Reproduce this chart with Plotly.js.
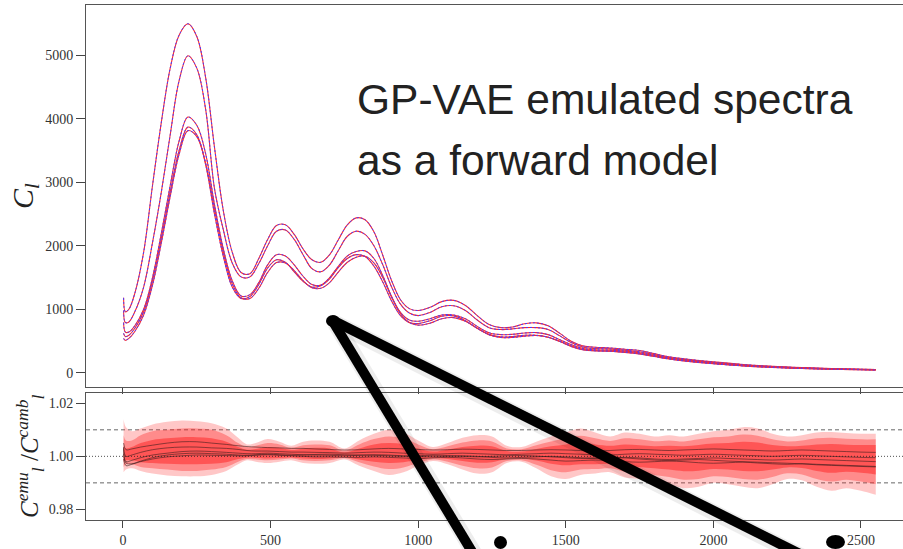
<!DOCTYPE html>
<html>
<head>
<meta charset="utf-8">
<script src="https://cdn.plot.ly/plotly-3.0.1.min.js"></script>
<style>html,body{margin:0;padding:0;background:#fff;}#chart{width:903px;height:549px;}</style>
</head>
<body>
<div id="chart"></div>
<script>
// multipole grid for spectra
var ell = [2, 8, 20, 40, 70, 100, 130, 160, 190, 220, 250, 280, 310, 340, 370, 400, 430, 460, 490, 520, 550, 580, 610, 640, 670, 700, 730, 760, 790, 820, 850, 880, 910, 940, 970, 1000, 1040, 1080, 1120, 1160, 1200, 1240, 1280, 1320, 1360, 1400, 1440, 1480, 1520, 1560, 1600, 1650, 1700, 1750, 1800, 1850, 1900, 2000, 2100, 2200, 2300, 2400, 2500, 2550];

var cl1 = [1180, 960, 1000, 1250, 1900, 2950, 3950, 4800, 5320, 5500, 5300, 4650, 3550, 2550, 1900, 1580, 1560, 1800, 2100, 2320, 2330, 2180, 1950, 1780, 1740, 1860, 2100, 2330, 2440, 2410, 2220, 1850, 1450, 1150, 1010, 980, 1030, 1120, 1140, 1060, 900, 760, 710, 720, 770, 785, 740, 620, 490, 420, 400, 390, 370, 350, 300, 250, 220, 170, 130, 100, 80, 65, 55, 50];
var cl2 = [980, 790, 800, 960, 1350, 2050, 2850, 3750, 4600, 4995, 4800, 4150, 2900, 2250, 1730, 1510, 1510, 1720, 2000, 2230, 2250, 2100, 1860, 1640, 1590, 1700, 1930, 2150, 2230, 2180, 2000, 1700, 1350, 1080, 940, 900, 950, 1040, 1055, 980, 830, 710, 680, 690, 710, 710, 680, 580, 470, 400, 380, 375, 355, 330, 285, 240, 210, 160, 125, 95, 78, 63, 53, 48];
var cl3 = [790, 640, 640, 740, 1000, 1500, 2200, 2950, 3650, 4030, 3900, 3450, 2650, 1950, 1450, 1210, 1230, 1420, 1700, 1860, 1840, 1700, 1520, 1390, 1380, 1500, 1680, 1840, 1910, 1920, 1800, 1530, 1200, 950, 830, 810, 850, 910, 910, 850, 730, 630, 600, 605, 625, 632, 600, 520, 440, 380, 360, 355, 340, 315, 270, 230, 200, 150, 115, 90, 72, 58, 50, 46];
var cl4 = [620, 570, 590, 700, 960, 1450, 2120, 2850, 3500, 3870, 3750, 3280, 2500, 1830, 1350, 1170, 1200, 1390, 1650, 1780, 1740, 1590, 1440, 1350, 1370, 1480, 1660, 1800, 1860, 1830, 1680, 1430, 1130, 900, 790, 775, 820, 890, 895, 820, 700, 600, 565, 570, 590, 590, 560, 490, 410, 360, 345, 340, 325, 300, 260, 220, 190, 145, 110, 85, 68, 56, 48, 44];
var cl5 = [540, 510, 540, 650, 910, 1380, 2050, 2780, 3440, 3815, 3720, 3300, 2580, 1900, 1400, 1180, 1170, 1330, 1580, 1735, 1730, 1610, 1450, 1340, 1330, 1420, 1590, 1740, 1820, 1835, 1730, 1500, 1190, 930, 790, 750, 780, 850, 868, 810, 700, 600, 555, 555, 575, 585, 560, 495, 420, 365, 345, 338, 320, 295, 255, 215, 185, 140, 107, 82, 66, 54, 46, 42];

// multipole grid for ratio panel
var rell = [2, 10, 30, 60, 100, 150, 200, 250, 300, 350, 390, 420, 450, 490, 530, 570, 610, 650, 700, 750, 800, 850, 900, 950, 1000, 1050, 1100, 1150, 1200, 1250, 1300, 1350, 1400, 1450, 1500, 1550, 1600, 1650, 1700, 1750, 1800, 1850, 1900, 1950, 2000, 2050, 2100, 2150, 2200, 2250, 2300, 2350, 2400, 2450, 2500, 2550];

var outerUp = [1.014, 1.011, 1.0095, 1.0105, 1.012, 1.013, 1.0135, 1.0132, 1.0125, 1.0105, 1.007, 1.0045, 1.005, 1.0065, 1.0055, 1.004, 1.0055, 1.006, 1.0055, 1.003, 1.006, 1.0085, 1.01, 1.009, 1.006, 1.0035, 1.005, 1.007, 1.008, 1.0075, 1.004, 1.0035, 1.0055, 1.0075, 1.009, 1.0105, 1.009, 1.0075, 1.009, 1.0085, 1.0075, 1.008, 1.0075, 1.0085, 1.0095, 1.01, 1.011, 1.0105, 1.0085, 1.0075, 1.008, 1.009, 1.0092, 1.0088, 1.0085, 1.0085];
var outerLo = [0.994, 0.995, 0.9955, 0.9945, 0.9935, 0.9928, 0.9925, 0.9925, 0.993, 0.9945, 0.997, 0.9985, 0.998, 0.9975, 0.998, 0.9985, 0.9975, 0.9972, 0.9975, 0.9988, 0.9965, 0.9945, 0.993, 0.994, 0.9965, 0.9982, 0.997, 0.995, 0.9935, 0.994, 0.9975, 0.998, 0.9955, 0.9925, 0.9915, 0.993, 0.9935, 0.994, 0.992, 0.9915, 0.9905, 0.9895, 0.988, 0.9885, 0.99, 0.9895, 0.9885, 0.988, 0.9895, 0.9915, 0.991, 0.9885, 0.987, 0.988, 0.987, 0.9855];
var midUp = [1.008, 1.006, 1.006, 1.008, 1.0095, 1.01, 1.0105, 1.0105, 1.01, 1.008, 1.005, 1.0035, 1.004, 1.005, 1.0045, 1.0032, 1.0042, 1.0045, 1.0042, 1.0022, 1.0045, 1.0065, 1.0075, 1.0068, 1.0045, 1.0027, 1.0038, 1.0052, 1.006, 1.0056, 1.003, 1.0027, 1.0042, 1.0056, 1.0068, 1.0078, 1.0068, 1.0058, 1.0068, 1.0064, 1.0057, 1.006, 1.0056, 1.0064, 1.0072, 1.0075, 1.0082, 1.0078, 1.0064, 1.0056, 1.006, 1.0068, 1.007, 1.0066, 1.0064, 1.0064];
var midLo = [0.996, 0.997, 0.997, 0.996, 0.9955, 0.995, 0.9945, 0.9945, 0.995, 0.996, 0.998, 0.999, 0.9988, 0.9985, 0.9988, 0.9992, 0.9985, 0.9982, 0.9985, 0.9993, 0.9978, 0.9962, 0.9952, 0.9958, 0.9975, 0.9988, 0.998, 0.9965, 0.9955, 0.9958, 0.9982, 0.9985, 0.9968, 0.9948, 0.994, 0.995, 0.9952, 0.9955, 0.9942, 0.9938, 0.993, 0.9922, 0.9912, 0.9915, 0.9925, 0.9922, 0.9915, 0.9912, 0.9922, 0.9936, 0.9932, 0.9915, 0.9905, 0.9912, 0.9905, 0.9895];
var innerUp = [1.004, 1.003, 1.0035, 1.005, 1.0062, 1.0068, 1.0072, 1.0072, 1.0068, 1.0055, 1.0035, 1.0025, 1.0028, 1.0035, 1.0032, 1.0024, 1.003, 1.0032, 1.003, 1.0015, 1.003, 1.0045, 1.005, 1.0046, 1.003, 1.0018, 1.0026, 1.0035, 1.004, 1.0038, 1.002, 1.0018, 1.0028, 1.0038, 1.0045, 1.0052, 1.0045, 1.004, 1.0045, 1.0042, 1.0038, 1.004, 1.0038, 1.0043, 1.0048, 1.005, 1.0055, 1.0052, 1.0043, 1.0038, 1.004, 1.0045, 1.0047, 1.0044, 1.0043, 1.0043];
var innerLo = [0.998, 0.9985, 0.9985, 0.9978, 0.9975, 0.9972, 0.997, 0.997, 0.9972, 0.9978, 0.999, 0.9995, 0.9994, 0.9992, 0.9994, 0.9996, 0.9992, 0.999, 0.9992, 0.9997, 0.9988, 0.998, 0.9975, 0.9978, 0.9987, 0.9994, 0.999, 0.9982, 0.9976, 0.9978, 0.999, 0.9992, 0.9984, 0.9972, 0.9966, 0.997, 0.997, 0.9972, 0.9964, 0.996, 0.9955, 0.995, 0.9944, 0.9946, 0.9952, 0.995, 0.9945, 0.9944, 0.995, 0.9958, 0.9956, 0.9945, 0.9938, 0.9942, 0.9938, 0.9932];

var ratio1 = [1.005, 1.0025, 1.0028, 1.0035, 1.0042, 1.005, 1.0055, 1.0055, 1.005, 1.0045, 1.004, 1.0037, 1.0035, 1.0033, 1.0032, 1.003, 1.003, 1.0028, 1.0026, 1.0024, 1.0025, 1.0028, 1.003, 1.0028, 1.0026, 1.0024, 1.0025, 1.0027, 1.0026, 1.0024, 1.0022, 1.0022, 1.0024, 1.0025, 1.0024, 1.0022, 1.002, 1.0022, 1.0025, 1.0026, 1.0024, 1.0022, 1.0024, 1.0026, 1.0028, 1.0026, 1.0024, 1.0022, 1.002, 1.0022, 1.0024, 1.0022, 1.002, 1.0018, 1.0016, 1.0015];
var ratio2 = [1.003, 1.0, 1.0005, 1.0015, 1.0025, 1.0032, 1.0035, 1.0035, 1.0032, 1.003, 1.0026, 1.0022, 1.002, 1.002, 1.0018, 1.0016, 1.0016, 1.0015, 1.0014, 1.0012, 1.0014, 1.0016, 1.0015, 1.0012, 1.001, 1.0008, 1.001, 1.0012, 1.001, 1.0008, 1.0006, 1.0008, 1.001, 1.0012, 1.001, 1.0008, 1.0006, 1.0005, 1.0008, 1.001, 1.0008, 1.0006, 1.0004, 1.0006, 1.0008, 1.0006, 1.0004, 1.0002, 1.0, 1.0002, 1.0004, 1.0002, 1.0, 0.9998, 0.9996, 0.9995];
var ratio3 = [1.001, 0.998, 0.9985, 0.9995, 1.0005, 1.0012, 1.0018, 1.002, 1.0018, 1.0015, 1.0012, 1.001, 1.001, 1.0012, 1.001, 1.0008, 1.0006, 1.0005, 1.0004, 1.0002, 1.0004, 1.0006, 1.0005, 1.0002, 1.0, 0.9998, 1.0, 1.0002, 1.0, 0.9996, 0.9994, 0.9996, 0.9998, 1.0, 0.9998, 0.9995, 0.9992, 0.9994, 0.9996, 0.9994, 0.999, 0.9988, 0.999, 0.9992, 0.9994, 0.9992, 0.999, 0.9988, 0.9986, 0.9988, 0.999, 0.9988, 0.9986, 0.9984, 0.9982, 0.998];
var ratio4 = [0.999, 0.9965, 0.997, 0.998, 0.999, 0.9998, 1.0002, 1.0005, 1.0004, 1.0003, 1.0002, 1.0002, 1.0004, 1.0006, 1.0004, 1.0002, 1.0, 0.9998, 0.9998, 0.9996, 0.9996, 0.9998, 0.9996, 0.9994, 0.9992, 0.9994, 0.9996, 0.9994, 0.999, 0.9988, 0.999, 0.9992, 0.999, 0.9986, 0.9982, 0.9984, 0.9986, 0.9984, 0.998, 0.9978, 0.998, 0.9982, 0.998, 0.9976, 0.9974, 0.9976, 0.9978, 0.9975, 0.9972, 0.997, 0.9972, 0.997, 0.9968, 0.9966, 0.9964, 0.9962];
var ratio5 = [1.0035, 0.9975, 0.9972, 0.9982, 0.9995, 1.0005, 1.001, 1.0012, 1.001, 1.0008, 1.0005, 1.0004, 1.0006, 1.0008, 1.0006, 1.0004, 1.0005, 1.0007, 1.0008, 1.0006, 1.0005, 1.0004, 1.0002, 1.0, 1.0002, 1.0004, 1.0003, 1.0, 0.9998, 1.0, 1.0002, 1.0003, 1.0001, 0.9998, 0.9995, 0.9992, 0.9994, 0.9996, 0.9994, 0.999, 0.9986, 0.9984, 0.9986, 0.9988, 0.9985, 0.9982, 0.998, 0.9978, 0.9976, 0.9974, 0.9972, 0.9968, 0.9966, 0.9964, 0.9962, 0.996];

var topTicks = [0, 1000, 2000, 3000, 4000, 5000];
var xTicks = [0, 500, 1000, 1500, 2000, 2500];
var ratioTicks = [0.98, 1.00, 1.02];
var ratioTickText = ['0.98', '1.00', '1.02'];
var headline1 = 'GP-VAE emulated spectra';
var headline2 = 'as a forward model';

var traces = [];
[cl1, cl2, cl3, cl4, cl5].forEach(function (c) {
  traces.push({x: ell, y: c, xaxis: 'x', yaxis: 'y', mode: 'lines', type: 'scatter',
    line: {color: '#ff2a2a', width: 1.1, shape: 'spline', smoothing: 1}, hoverinfo: 'skip', showlegend: false});
  traces.push({x: ell, y: c, xaxis: 'x', yaxis: 'y', mode: 'lines', type: 'scatter',
    line: {color: '#4a3cff', width: 1.0, dash: '2px,2px', shape: 'spline', smoothing: 1}, hoverinfo: 'skip', showlegend: false});
});

function band(up, lo, col) {
  traces.push({x: rell, y: lo, xaxis: 'x2', yaxis: 'y2', mode: 'lines', type: 'scatter',
    line: {width: 0, shape: 'spline'}, hoverinfo: 'skip', showlegend: false});
  traces.push({x: rell, y: up, xaxis: 'x2', yaxis: 'y2', mode: 'lines', type: 'scatter', fill: 'tonexty',
    fillcolor: col, line: {width: 0, shape: 'spline'}, hoverinfo: 'skip', showlegend: false});
}
band(outerUp, outerLo, 'rgba(255,30,30,0.25)');
band(midUp, midLo, 'rgba(255,30,30,0.35)');
band(innerUp, innerLo, 'rgba(255,20,20,0.45)');

[ratio1, ratio2, ratio3, ratio4, ratio5].forEach(function (r) {
  traces.push({x: rell, y: r, xaxis: 'x2', yaxis: 'y2', mode: 'lines', type: 'scatter',
    line: {color: 'rgba(60,30,30,0.75)', width: 0.8, shape: 'spline'}, hoverinfo: 'skip', showlegend: false});
});

function px(v) { return (v - 86) / 817; }
function py(v) { return (520 - v) / 515; }

var shapes = [
  {type: 'line', xref: 'paper', yref: 'y2', x0: 0, x1: 1, y0: 1.01, y1: 1.01, line: {color: '#666', width: 1, dash: '4px,3px'}, layer: 'below'},
  {type: 'line', xref: 'paper', yref: 'y2', x0: 0, x1: 1, y0: 0.99, y1: 0.99, line: {color: '#666', width: 1, dash: '4px,3px'}, layer: 'below'},
  {type: 'line', xref: 'paper', yref: 'y2', x0: 0, x1: 1, y0: 1.0, y1: 1.0, line: {color: '#222', width: 0.8, dash: '1px,2px'}, layer: 'above'},
  // hand-drawn marker strokes (decoration overlay)
  {type: 'line', xref: 'paper', yref: 'paper', x0: px(335), y0: py(323), x1: px(477), y1: py(558), line: {color: 'rgba(0,0,0,0.07)', width: 16}},
  {type: 'line', xref: 'paper', yref: 'paper', x0: px(335), y0: py(323), x1: px(805), y1: py(558), line: {color: 'rgba(0,0,0,0.07)', width: 16}},
  {type: 'line', xref: 'paper', yref: 'paper', x0: px(332), y0: py(320), x1: px(474), y1: py(555), line: {color: '#000', width: 10}},
  {type: 'line', xref: 'paper', yref: 'paper', x0: px(332), y0: py(320), x1: px(802), y1: py(555), line: {color: '#000', width: 10}},
  {type: 'circle', xref: 'paper', yref: 'paper', x0: px(326), y0: py(327), x1: px(340), y1: py(315), fillcolor: '#000', line: {width: 0}},
  {type: 'circle', xref: 'paper', yref: 'paper', x0: px(494), y0: py(549), x1: px(507), y1: py(536), fillcolor: '#000', line: {width: 0}},
  {type: 'circle', xref: 'paper', yref: 'paper', x0: px(826), y0: py(549), x1: px(845), y1: py(535), fillcolor: '#000', line: {width: 0}}
];

var axisFont = {family: 'Liberation Serif, DejaVu Serif, serif', size: 14, color: '#333'};
var layout = {
  width: 903, height: 549,
  margin: {l: 86, r: 0, t: 5, b: 29},
  paper_bgcolor: '#fff', plot_bgcolor: '#fff',
  showlegend: false,
  xaxis: {domain: [0, 1], anchor: 'y', range: [-125.3, 2642.3], tickvals: xTicks, showticklabels: false,
    ticks: 'outside', ticklen: 6, tickcolor: '#444', showline: true, linecolor: '#555', linewidth: 1, mirror: true,
    showgrid: false, zeroline: false},
  yaxis: {domain: [0.2577, 1], anchor: 'x', range: [-230, 5795], tickvals: topTicks,
    ticks: 'outside', ticklen: 9, tickcolor: '#444', showline: true, linecolor: '#555', linewidth: 1,
    showgrid: false, zeroline: false, tickfont: axisFont,
    title: {text: '<i>C</i><sub><i>l</i></sub>', font: {family: 'Liberation Serif, DejaVu Serif, serif', size: 30, color: '#222'}, standoff: 2}},
  xaxis2: {domain: [0, 1], anchor: 'y2', range: [-125.3, 2642.3], tickvals: xTicks,
    ticks: 'outside', ticklen: 7, tickcolor: '#444', showline: true, linecolor: '#555', linewidth: 1, mirror: true,
    showgrid: false, zeroline: false, tickfont: axisFont},
  yaxis2: {domain: [0, 0.2472], anchor: 'x2', range: [0.9760, 1.0240], tickvals: ratioTicks, ticktext: ratioTickText,
    ticks: 'outside', ticklen: 9, tickcolor: '#444', showline: true, linecolor: '#555', linewidth: 1,
    showgrid: false, zeroline: false, tickfont: axisFont,
    title: {text: '<i>C</i><sup><i>emu</i></sup><sub><i>l</i></sub> /<i>C</i><sup><i>camb</i></sup><sub><i>l</i></sub>', font: {family: 'Liberation Serif, DejaVu Serif, serif', size: 25, color: '#222'}, standoff: 2}},
  shapes: shapes,
  annotations: [
    {xref: 'paper', yref: 'paper', x: px(355), y: py(99), xanchor: 'left', yanchor: 'middle', showarrow: false,
      text: headline1, font: {family: 'Liberation Sans, Arial, sans-serif', size: 42.5, color: '#222'}},
    {xref: 'paper', yref: 'paper', x: px(355), y: py(160), xanchor: 'left', yanchor: 'middle', showarrow: false,
      text: headline2, font: {family: 'Liberation Sans, Arial, sans-serif', size: 42.5, color: '#222'}}
  ]
};

Plotly.newPlot('chart', traces, layout, {displayModeBar: false, staticPlot: true});
</script>
</body>
</html>
